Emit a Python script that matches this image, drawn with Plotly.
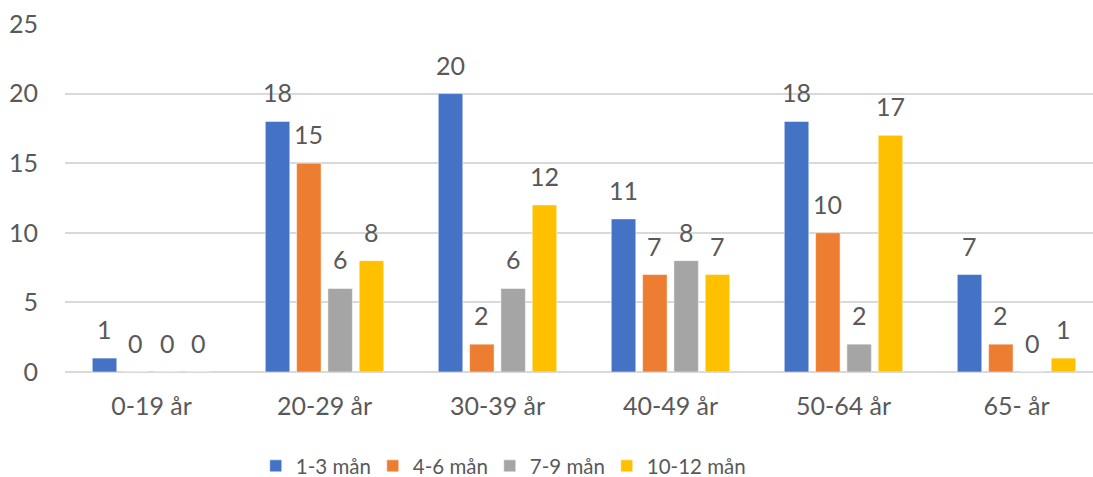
import plotly.graph_objects as go

categories = ["0-19 år", "20-29 år", "30-39 år", "40-49 år", "50-64 år", "65- år"]
series_names = ["1-3 mån", "4-6 mån", "7-9 mån", "10-12 mån"]
vals_1_3 = [1, 18, 20, 11, 18, 7]
vals_4_6 = [0, 15, 2, 7, 10, 2]
vals_7_9 = [0, 6, 6, 8, 2, 0]
vals_10_12 = [0, 8, 12, 7, 17, 1]
y_ticks = [0, 5, 10, 15, 20, 25]

series_values = [vals_1_3, vals_4_6, vals_7_9, vals_10_12]
colors = ["#4472C4", "#ED7D31", "#A5A5A5", "#FFC000"]
text_color = "#595959"
font_family = "Lato, 'Open Sans', sans-serif"
font_size = 25
legend_font_size = 20.5

W, H = 1093, 477
margin = dict(l=65, r=0, t=24, b=105)
cat_px = 173.0  # width of one category band in pixels
plot_w = W - margin["l"] - margin["r"]
bargap = 0.276
slot_px = cat_px * (1 - bargap) / len(series_values)

fig = go.Figure()
for k, (name, vals, col) in enumerate(zip(series_names, series_values, colors)):
    last = k == len(series_names) - 1
    fig.add_trace(go.Bar(
        x=categories, y=vals, name=name,
        marker=dict(color=col, line=dict(color="rgba(255,255,255,0.5)", width=1)),
        legendwidth=110 if last else None,
    ))

# value labels above each bar
annotations = []
for i, vals in enumerate(series_values):
    for cat, v in zip(categories, vals):
        annotations.append(dict(
            x=cat, y=v, xref="x", yref="y", text=str(v),
            showarrow=False, yanchor="bottom", xanchor="center",
            xshift=(i - 1.5) * slot_px, yshift=12,
            font=dict(family=font_family, size=font_size, color=text_color),
        ))

fig.update_layout(
    width=W, height=H,
    margin=margin,
    barmode="group", bargap=bargap, bargroupgap=0.217,
    plot_bgcolor="white", paper_bgcolor="white",
    font=dict(family=font_family, size=font_size, color=text_color),
    showlegend=True,
    legend=dict(
        orientation="h", xref="container", yref="container",
        x=0.234, xanchor="left", y=0.023, yanchor="middle",
        entrywidth=72, entrywidthmode="pixels",
        font=dict(family=font_family, size=legend_font_size, color=text_color),
        traceorder="normal",
    ),
    annotations=annotations,
)
fig.update_xaxes(
    range=[-0.5, -0.5 + plot_w / cat_px],
    showgrid=False, showline=False, ticks="", zeroline=False,
    tickfont=dict(family=font_family, size=font_size, color=text_color),
    ticklabelstandoff=17,
)
fig.update_yaxes(
    range=[0, 25], tickvals=y_ticks,
    showgrid=True, gridcolor="#D9D9D9", gridwidth=1.5,
    zeroline=True, zerolinecolor="#D9D9D9", zerolinewidth=1.5,
    showline=False, ticks="",
    tickfont=dict(family=font_family, size=font_size, color=text_color),
    ticklabelstandoff=26,
)

fig.write_html("out.html")
